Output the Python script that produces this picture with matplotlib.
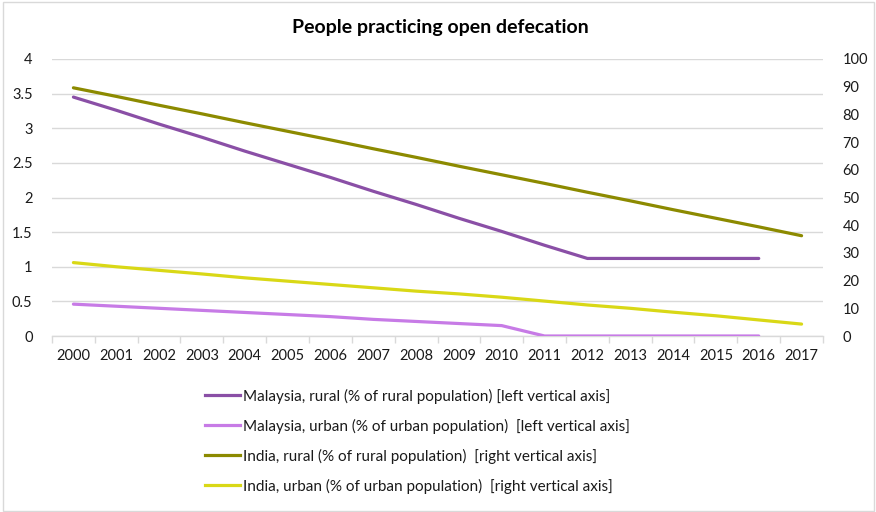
import matplotlib.pyplot as plt
from matplotlib.lines import Line2D
from matplotlib.patches import Rectangle

plt.rcParams['font.family'] = ['Lato', 'DejaVu Sans']

years = list(range(2000, 2018))

# Malaysia (left axis, % of population), reported up to 2016
malaysia_years = list(range(2000, 2017))
malaysia_rural = [3.45, 3.26, 3.06, 2.87, 2.67, 2.48, 2.29, 2.09, 1.90, 1.70,
                  1.51, 1.31, 1.12, 1.12, 1.12, 1.12, 1.12]
malaysia_urban = [0.46, 0.43, 0.40, 0.37, 0.34, 0.31, 0.28, 0.24, 0.21, 0.18,
                  0.15, 0.0, 0.0, 0.0, 0.0, 0.0, 0.0]

# India (right axis, % of population)
india_rural = [89.6, 86.5, 83.3, 80.2, 77.0, 73.9, 70.8, 67.6, 64.5, 61.3,
               58.2, 55.1, 51.9, 48.8, 45.6, 42.5, 39.4, 36.2]
india_urban = [26.5, 25.0, 23.7, 22.4, 21.0, 19.8, 18.6, 17.4, 16.2, 15.2,
               14.0, 12.6, 11.2, 10.0, 8.6, 7.3, 5.8, 4.3]

labels = [
    "Malaysia, rural (% of rural population) [left vertical axis]",
    "Malaysia, urban (% of urban population)  [left vertical axis]",
    "India, rural (% of rural population)  [right vertical axis]",
    "India, urban (% of urban population)  [right vertical axis]",
]
colors = ["#8a4fa6", "#c77be6", "#8c8a00", "#d9d816"]

grid_col = "#d9d9d9"
text_col = "#1a1a1a"
lw = 2.3

fig = plt.figure(figsize=(8.76, 5.12), dpi=100)
ax = fig.add_axes([52 / 876, 1 - 336 / 512, (823 - 52) / 876, (336 - 59) / 512])
ax2 = ax.twinx()

mi = [years.index(y) for y in malaysia_years]
xi = list(range(len(years)))

ax.plot(mi, malaysia_rural, color=colors[0], lw=lw, solid_capstyle='round', zorder=3)
ax.plot(mi, malaysia_urban, color=colors[1], lw=lw, solid_capstyle='round', zorder=3)
ax2.plot(xi, india_rural, color=colors[2], lw=lw, solid_capstyle='round')
ax2.plot(xi, india_urban, color=colors[3], lw=lw, solid_capstyle='round')

ax.set_ylim(0, 4)
ax.set_yticks([0, 0.5, 1, 1.5, 2, 2.5, 3, 3.5, 4])
ax.set_yticklabels(["0", "0.5", "1", "1.5", "2", "2.5", "3", "3.5", "4"])
ax2.set_ylim(0, 100)
ax2.set_yticks(range(0, 101, 10))

ax.set_xlim(-0.5, len(years) - 0.5)
ax.set_xticks(xi)
ax.set_xticklabels([str(y) for y in years])
ax.set_xticks([i - 0.5 for i in range(len(years) + 1)], minor=True)

ax.grid(axis='y', color=grid_col, lw=1)
ax.set_axisbelow(True)
for a in (ax, ax2):
    for s in a.spines.values():
        s.set_visible(False)
ax.spines['bottom'].set_visible(True)
ax.spines['bottom'].set_color(grid_col)
ax.spines['bottom'].set_linewidth(1)

ax.tick_params(axis='x', which='major', length=0, pad=9, labelsize=10.5, colors=text_col)
ax.tick_params(axis='x', which='minor', length=5, color=grid_col, width=1)
ax.tick_params(axis='y', length=0, pad=14, labelsize=10.5, colors=text_col)
ax2.tick_params(axis='y', length=0, pad=14, labelsize=10.5, colors=text_col)

fig.text(440 / 876, 1 - 27 / 512, "People practicing open defecation",
         ha='center', va='center', fontsize=14, fontweight='bold', color='black')

handles = [Line2D([], [], color=c, lw=lw) for c in colors]
fig.legend(handles, labels, loc='upper left', bbox_to_anchor=(197 / 876, 1 - 381 / 512),
           frameon=False, fontsize=11, handlelength=2.3, handletextpad=0.2,
           labelspacing=0.98, borderpad=0, labelcolor=text_col)

fig.patches.append(Rectangle((3 / 876, 1 / 512), 871 / 876, 509 / 512,
                             transform=fig.transFigure, fill=False,
                             edgecolor=grid_col, lw=1))

fig.savefig("out.png", dpi=100)
